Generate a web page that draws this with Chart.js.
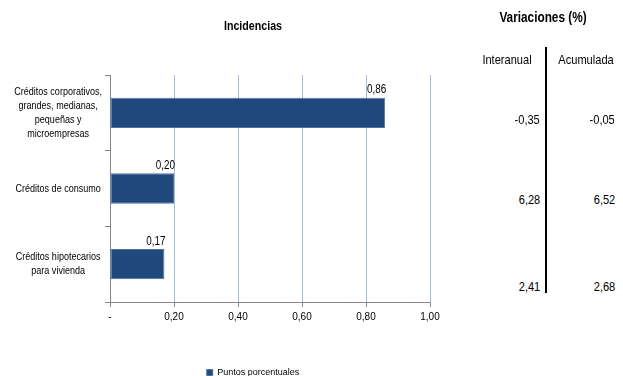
<!DOCTYPE html>
<html>
<head>
<meta charset="utf-8">
<script src="https://cdn.jsdelivr.net/npm/chart.js@4"></script>
<style>
    html, body { margin: 0; padding: 0; background: #fff; overflow: hidden; }
    body { width: 623px; height: 376px; position: relative; font-family: "Liberation Sans", Arial, sans-serif; color: #000; }
    #wrap { position: absolute; left: 0; top: 0; width: 503px; height: 387px; }
    .t { position: absolute; white-space: nowrap; line-height: 1; }
    .hdr { font-weight: bold; font-size: 14.4px; transform: translate(-50%, -50%) scaleX(0.82); }
    .col { font-size: 13.5px; transform: translate(-50%, -50%) scaleX(0.82); }
    .val { font-size: 13.5px; transform-origin: right center; transform: translateY(-50%) scaleX(0.82); }
    #sep { position: absolute; left: 545px; top: 47px; width: 2px; height: 246px; background: #000; }
</style>
</head>
<body>
<div id="wrap"><canvas id="incChart"></canvas></div>
<div id="table"></div>
<script>
const FONT = "'Liberation Sans', Arial, sans-serif";
const NARROW = 0.82;

const chartTitle = "Incidencias";
const categories = [
    ["Créditos corporativos,", "grandes, medianas,", "pequeñas y", "microempresas"],
    ["Créditos de consumo"],
    ["Créditos hipotecarios", "para vivienda"]
];
const incidencias = [0.86, 0.20, 0.17];
const interanual = [-0.35, 6.28, 2.41];
const acumulada = [-0.05, 6.52, 2.68];
const seriesName = "Puntos porcentuales";
const tableTitle = "Variaciones (%)";
const colNames = ["Interanual", "Acumulada"];

const fmt = (v) => v.toFixed(2).replace(".", ",");

// right-hand table (html text)
const rowY = [120, 200, 287];
const colRight = [540, 615];
const colCenter = [507, 586];
let html = `<div class="t hdr" style="left:543px;top:17px">${tableTitle}</div>`;
html += `<div id="sep"></div>`;
colNames.forEach((n, i) => {
    html += `<div class="t col" style="left:${colCenter[i]}px;top:60px">${n}</div>`;
});
[interanual, acumulada].forEach((arr, c) => {
    arr.forEach((v, r) => {
        html += `<div class="t val" style="right:${623 - colRight[c]}px;top:${rowY[r]}px">${fmt(v)}</div>`;
    });
});
document.getElementById("table").innerHTML = html;

// narrow text helper (no condensed font installed)
const narrowText = (ctx, text, x, y) => {
    ctx.save();
    ctx.translate(x, y);
    ctx.scale(NARROW, 1);
    ctx.fillText(text, 0, 0);
    ctx.restore();
};

const textLabels = {
    id: "textLabels",
    afterDraw(chart) {
        const ctx = chart.ctx;
        ctx.save();
        ctx.fillStyle = "#000";

        // title, centred over the padded box like the legend
        const pad = chart.options.layout.padding;
        ctx.font = `bold 13px ${FONT}`;
        ctx.textAlign = "center";
        ctx.textBaseline = "middle";
        narrowText(ctx, chartTitle, (pad.left + chart.width - pad.right) / 2, 26);

        // category labels, centred on the widest line, right edge near the axis ticks
        const ys = chart.scales.y;
        ctx.font = `11px ${FONT}`;
        let widest = 0;
        categories.forEach(lines => lines.forEach(l => { widest = Math.max(widest, ctx.measureText(l).width * NARROW); }));
        const cx = ys.right - 8 - widest / 2;
        const lh = 14;
        categories.forEach((lines, i) => {
            const cy = ys.getPixelForValue(i);
            const top = cy - (lines.length - 1) * lh / 2;
            lines.forEach((l, k) => narrowText(ctx, l, cx, top + k * lh));
        });

        // value labels above bar ends
        const meta = chart.getDatasetMeta(0);
        ctx.font = `12px ${FONT}`;
        ctx.textAlign = "right";
        ctx.textBaseline = "alphabetic";
        meta.data.forEach((bar, i) => {
            narrowText(ctx, fmt(incidencias[i]), bar.x + 1, bar.y - bar.height / 2 - 4.5);
        });
        ctx.restore();
    }
};

new Chart(document.getElementById("incChart").getContext("2d"), {
    type: "bar",
    data: {
        labels: categories,
        datasets: [{
            label: seriesName,
            data: incidencias,
            backgroundColor: "#1F497D",
            borderColor: "#4F71A0",
            borderWidth: 1,
            borderSkipped: false,
            barPercentage: 0.4,
            categoryPercentage: 1
        }]
    },
    options: {
        indexAxis: "y",
        responsive: true,
        maintainAspectRatio: false,
        animation: false,
        layout: { padding: { left: 76, right: 73, top: 75, bottom: 0 } },
        scales: {
            x: {
                min: 0,
                max: 1,
                ticks: {
                    stepSize: 0.2,
                    color: "#000",
                    padding: 4,
                    font: { family: FONT, size: 10 },
                    callback: (v) => v === 0 ? "-" : fmt(v)
                },
                grid: { color: "#9DBCE3", lineWidth: 1, tickColor: "#868686", tickLength: 5, tickWidth: 1 },
                border: { display: true, color: "#868686", width: 1 },
                afterFit: (s) => { s.height = 56; }
            },
            y: {
                ticks: { display: false },
                grid: { drawOnChartArea: false, color: "#868686", tickLength: 5 },
                border: { display: true, color: "#868686", width: 1 },
                afterFit: (s) => { s.width = 34; }
            }
        },
        plugins: {
            title: { display: false },
            legend: {
                position: "bottom",
                labels: {
                    boxWidth: 6,
                    boxHeight: 6,
                    padding: 10,
                    color: "#000",
                    font: { family: FONT, size: 9 }
                }
            },
            tooltip: { enabled: false }
        }
    },
    plugins: [textLabels]
});
</script>
</body>
</html>
